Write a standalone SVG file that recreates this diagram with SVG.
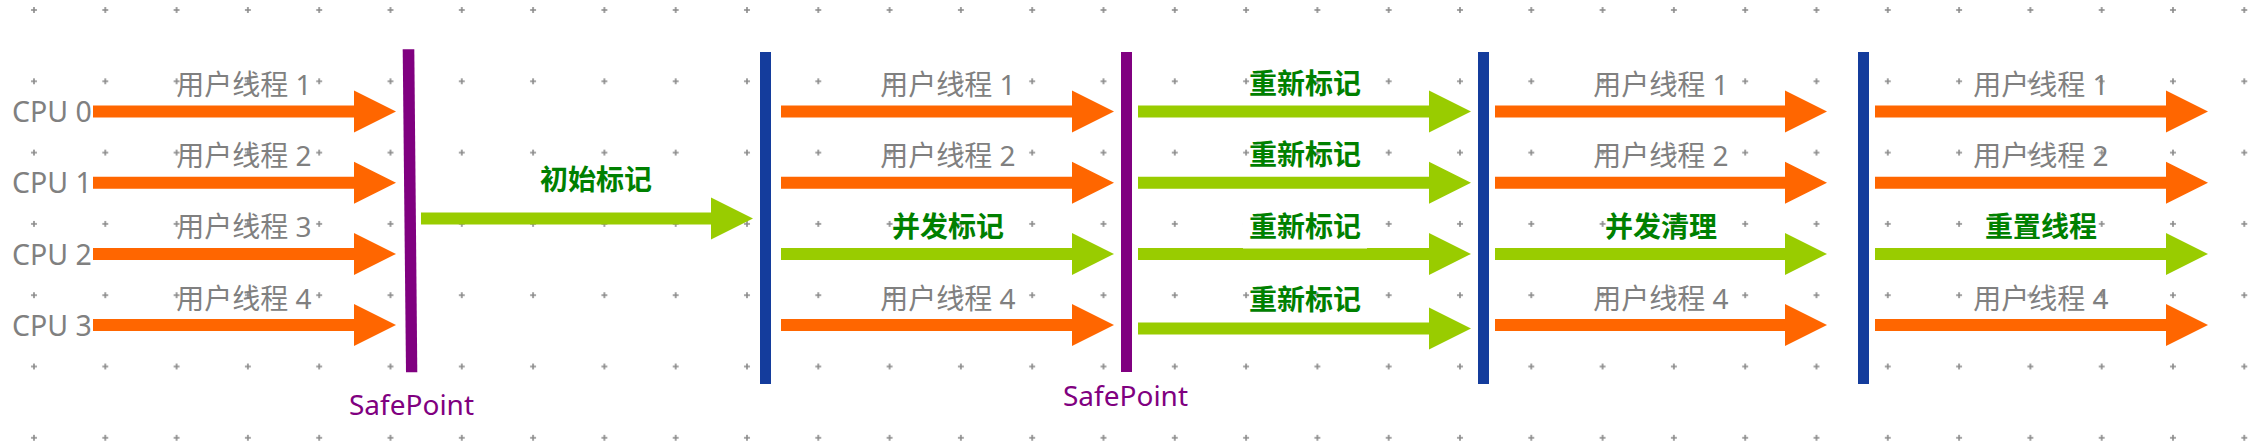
<svg xmlns="http://www.w3.org/2000/svg" width="2252" height="446" viewBox="0 0 2252 446">
<style>
.lbl{font-family:"Noto Sans","Noto Sans CJK SC",sans-serif;font-size:28px;fill:#808080;text-anchor:middle}
.act{font-family:"Noto Sans CJK SC","Noto Sans",sans-serif;font-size:28px;font-weight:bold;fill:#008000;text-anchor:middle}
.cpu{font-family:"Noto Sans",sans-serif;font-size:28.5px;fill:#808080}
.sp{font-family:"Noto Sans",sans-serif;font-size:28px;fill:#800080}
.or{fill:#FF6600}
.gr{fill:#99CC00}
.blue{fill:#143C9C}
.purple{fill:#800080}
</style>
<defs>
<pattern id="grid" patternUnits="userSpaceOnUse" x="-1.65" y="-25.65" width="71.3" height="71.3">
<path d="M32.65 35.65h6M35.65 32.65v6" stroke="#8a8a8a" stroke-width="1.6" fill="none"/>
</pattern>
</defs>
<rect width="2252" height="446" fill="#ffffff"/>
<rect id="grid-bg" width="2252" height="446" fill="url(#grid)"/>

<g id="cpu-labels">
<text class="cpu" x="12" y="122">CPU 0</text>
<text class="cpu" x="12" y="193.3">CPU 1</text>
<text class="cpu" x="12" y="264.5">CPU 2</text>
<text class="cpu" x="12" y="335.7">CPU 3</text>
</g>

<g id="barriers">
<polygon id="safepoint1" class="purple" points="402.7,49.3 414.3,49.3 417.3,372.3 406,372.3"/>
<rect id="blue1" class="blue" x="760" y="52" width="11" height="332"/>
<rect id="safepoint2" class="purple" x="1121" y="52" width="11" height="320"/>
<rect id="blue2" class="blue" x="1478" y="52" width="11" height="332"/>
<rect id="blue3" class="blue" x="1858" y="52" width="11" height="332"/>
<text class="sp" x="349" y="415">SafePoint</text>
<text class="sp" x="1063" y="406">SafePoint</text>
</g>

<g id="connectors">
<!-- section 1 -->
<polygon class="or" points="93,105.5 354,105.5 354,90.5 396,111.5 354,132.5 354,117.5 93,117.5"/>
<polygon class="or" points="93,176.7 354,176.7 354,161.7 396,182.7 354,203.7 354,188.7 93,188.7"/>
<polygon class="or" points="93,247.9 354,247.9 354,232.9 396,253.9 354,274.9 354,259.9 93,259.9"/>
<polygon class="or" points="93,319.1 354,319.1 354,304.1 396,325.1 354,346.1 354,331.1 93,331.1"/>
<!-- initial mark -->
<polygon class="gr" points="421,212.5 711,212.5 711,197.5 753,218.5 711,239.5 711,224.5 421,224.5"/>
<!-- section 2 -->
<polygon class="or" points="781,105.5 1072,105.5 1072,90.5 1114,111.5 1072,132.5 1072,117.5 781,117.5"/>
<polygon class="or" points="781,176.7 1072,176.7 1072,161.7 1114,182.7 1072,203.7 1072,188.7 781,188.7"/>
<polygon class="gr" points="781,247.9 1072,247.9 1072,232.9 1114,253.9 1072,274.9 1072,259.9 781,259.9"/>
<polygon class="or" points="781,319.1 1072,319.1 1072,304.1 1114,325.1 1072,346.1 1072,331.1 781,331.1"/>
<!-- section 3 -->
<polygon class="gr" points="1138,105.5 1429,105.5 1429,90.5 1471,111.5 1429,132.5 1429,117.5 1138,117.5"/>
<polygon class="gr" points="1138,176.7 1429,176.7 1429,161.7 1471,182.7 1429,203.7 1429,188.7 1138,188.7"/>
<polygon class="gr" points="1138,247.9 1429,247.9 1429,232.9 1471,253.9 1429,274.9 1429,259.9 1138,259.9"/>
<polygon class="gr" points="1138,322.5 1429,322.5 1429,307.5 1471,328.5 1429,349.5 1429,334.5 1138,334.5"/>
<!-- section 4 -->
<polygon class="or" points="1495,105.5 1785,105.5 1785,90.5 1827,111.5 1785,132.5 1785,117.5 1495,117.5"/>
<polygon class="or" points="1495,176.7 1785,176.7 1785,161.7 1827,182.7 1785,203.7 1785,188.7 1495,188.7"/>
<polygon class="gr" points="1495,247.9 1785,247.9 1785,232.9 1827,253.9 1785,274.9 1785,259.9 1495,259.9"/>
<polygon class="or" points="1495,319.1 1785,319.1 1785,304.1 1827,325.1 1785,346.1 1785,331.1 1495,331.1"/>
<!-- section 5 -->
<polygon class="or" points="1875,105.5 2166,105.5 2166,90.5 2208,111.5 2166,132.5 2166,117.5 1875,117.5"/>
<polygon class="or" points="1875,176.7 2166,176.7 2166,161.7 2208,182.7 2166,203.7 2166,188.7 1875,188.7"/>
<polygon class="gr" points="1875,247.9 2166,247.9 2166,232.9 2208,253.9 2166,274.9 2166,259.9 1875,259.9"/>
<polygon class="or" points="1875,319.1 2166,319.1 2166,304.1 2208,325.1 2166,346.1 2166,331.1 1875,331.1"/>
</g>

<g id="labels">
<text class="lbl" x="244" y="95">用户线程 1</text>
<text class="lbl" x="244" y="166.2">用户线程 2</text>
<text class="lbl" x="244" y="237.4">用户线程 3</text>
<text class="lbl" x="244" y="308.6">用户线程 4</text>

<text class="act" x="596" y="190">初始标记</text>

<text class="lbl" x="948" y="95">用户线程 1</text>
<text class="lbl" x="948" y="166.2">用户线程 2</text>
<text class="act" x="948" y="237">并发标记</text>
<text class="lbl" x="948" y="308.6">用户线程 4</text>

<text class="act" x="1305" y="94">重新标记</text>
<text class="act" x="1305" y="165">重新标记</text>
<rect x="1243" y="216" width="124" height="32.5" fill="#ffffff"/>
<text class="act" x="1305" y="237">重新标记</text>
<text class="act" x="1305" y="310">重新标记</text>

<text class="lbl" x="1661" y="95">用户线程 1</text>
<text class="lbl" x="1661" y="166.2">用户线程 2</text>
<text class="act" x="1661" y="237">并发清理</text>
<text class="lbl" x="1661" y="308.6">用户线程 4</text>

<text class="lbl" x="2041" y="95">用户线程 1</text>
<text class="lbl" x="2041" y="166.2">用户线程 2</text>
<text class="act" x="2041" y="237">重置线程</text>
<text class="lbl" x="2041" y="308.6">用户线程 4</text>
</g>
</svg>
